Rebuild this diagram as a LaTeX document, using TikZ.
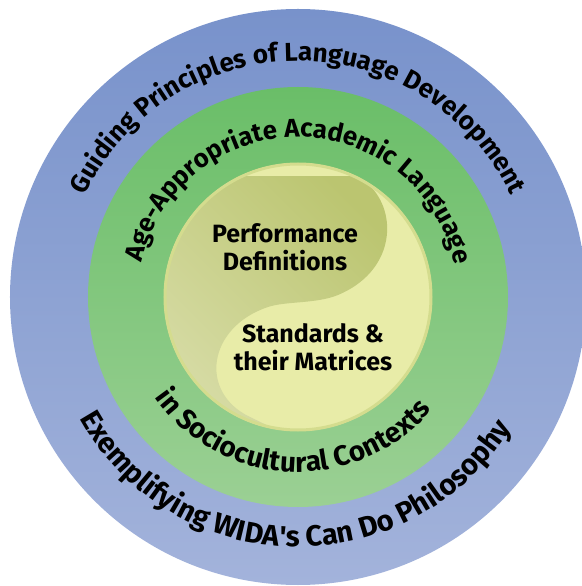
\documentclass[tikz,border=0pt]{standalone}
\usepackage{fontspec}
\newfontfamily\wfont{Fira Sans}
\usetikzlibrary{decorations.text}

\definecolor{blueTop}{RGB}{120,146,203}
\definecolor{blueBot}{RGB}{163,179,219}
\definecolor{greenTop}{RGB}{106,190,104}
\definecolor{greenBot}{RGB}{155,208,148}
\definecolor{paleYel}{RGB}{232,236,168}
\definecolor{oliveDk}{RGB}{187,197,112}
\definecolor{oliveLt}{RGB}{220,224,176}
\definecolor{rimYel}{RGB}{212,220,142}

\tikzset{
  ringtext/.style n args={2}{decorate, decoration={text along path, text align=center,
      text={|\wfont\bfseries\fontsize{#1}{#1}\selectfont|#2}}},
  core/.style={font=\wfont\bfseries\fontsize{25}{28}\selectfont, align=center, inner sep=0pt}
}

\begin{document}
\begin{tikzpicture}[x=1pt, y=1pt]
    \useasboundingbox (-298,-289) rectangle (283,297);

    % Rings
    \shade[top color=blueTop, bottom color=blueBot] (0,0) circle (288);
    \shade[top color=greenTop, bottom color=greenBot] (0,0) circle (210);

    % Inner disc with the S-shaped split
    \fill[paleYel] (0,0) circle (134);
    \begin{scope}
        \clip (0,0) circle (134);
        \clip (61,123.5) -- (74,109)
            .. controls (100,80) and (95,25) .. (40,2)
            .. controls (18,-7) and (-12,-4) .. (-30,-10)
            .. controls (-90,-30) and (-100,-95) .. (-48,-120)
            -- (-6.4,-140) -- (-200,-200) -- (-200,200) -- (61,200) -- cycle;
        \shade[top color=oliveDk, middle color=oliveDk, bottom color=oliveLt, shading angle=-45]
            (-180,-180) rectangle (120,120);
    \end{scope}
    \draw[rimYel, line width=3] (0,0) circle (133);

    % Labels in the core
    \node[core] (perf) at (-13,50) {Performance\\Definitions};
    \node[core] (stds) at (15,-50) {Standards \&\\their Matrices};

    % Curved labels
    \path[ringtext={26}{Guiding Principles of Language Development}]
        (180:236) arc[start angle=180, end angle=0, radius=236];
    \path[ringtext={29}{Exemplifying WIDA{\textquotesingle}s Can Do Philosophy}]
        (180:250) arc[start angle=180, end angle=357.5, radius=250];
    \path[ringtext={25.8}{Age-Appropriate Academic Language}]
        (179:160) arc[start angle=179, end angle=0, radius=160];
    \path[ringtext={28}{in Sociocultural Contexts}]
        (180:175) arc[start angle=180, end angle=355, radius=175];
\end{tikzpicture}
\end{document}
